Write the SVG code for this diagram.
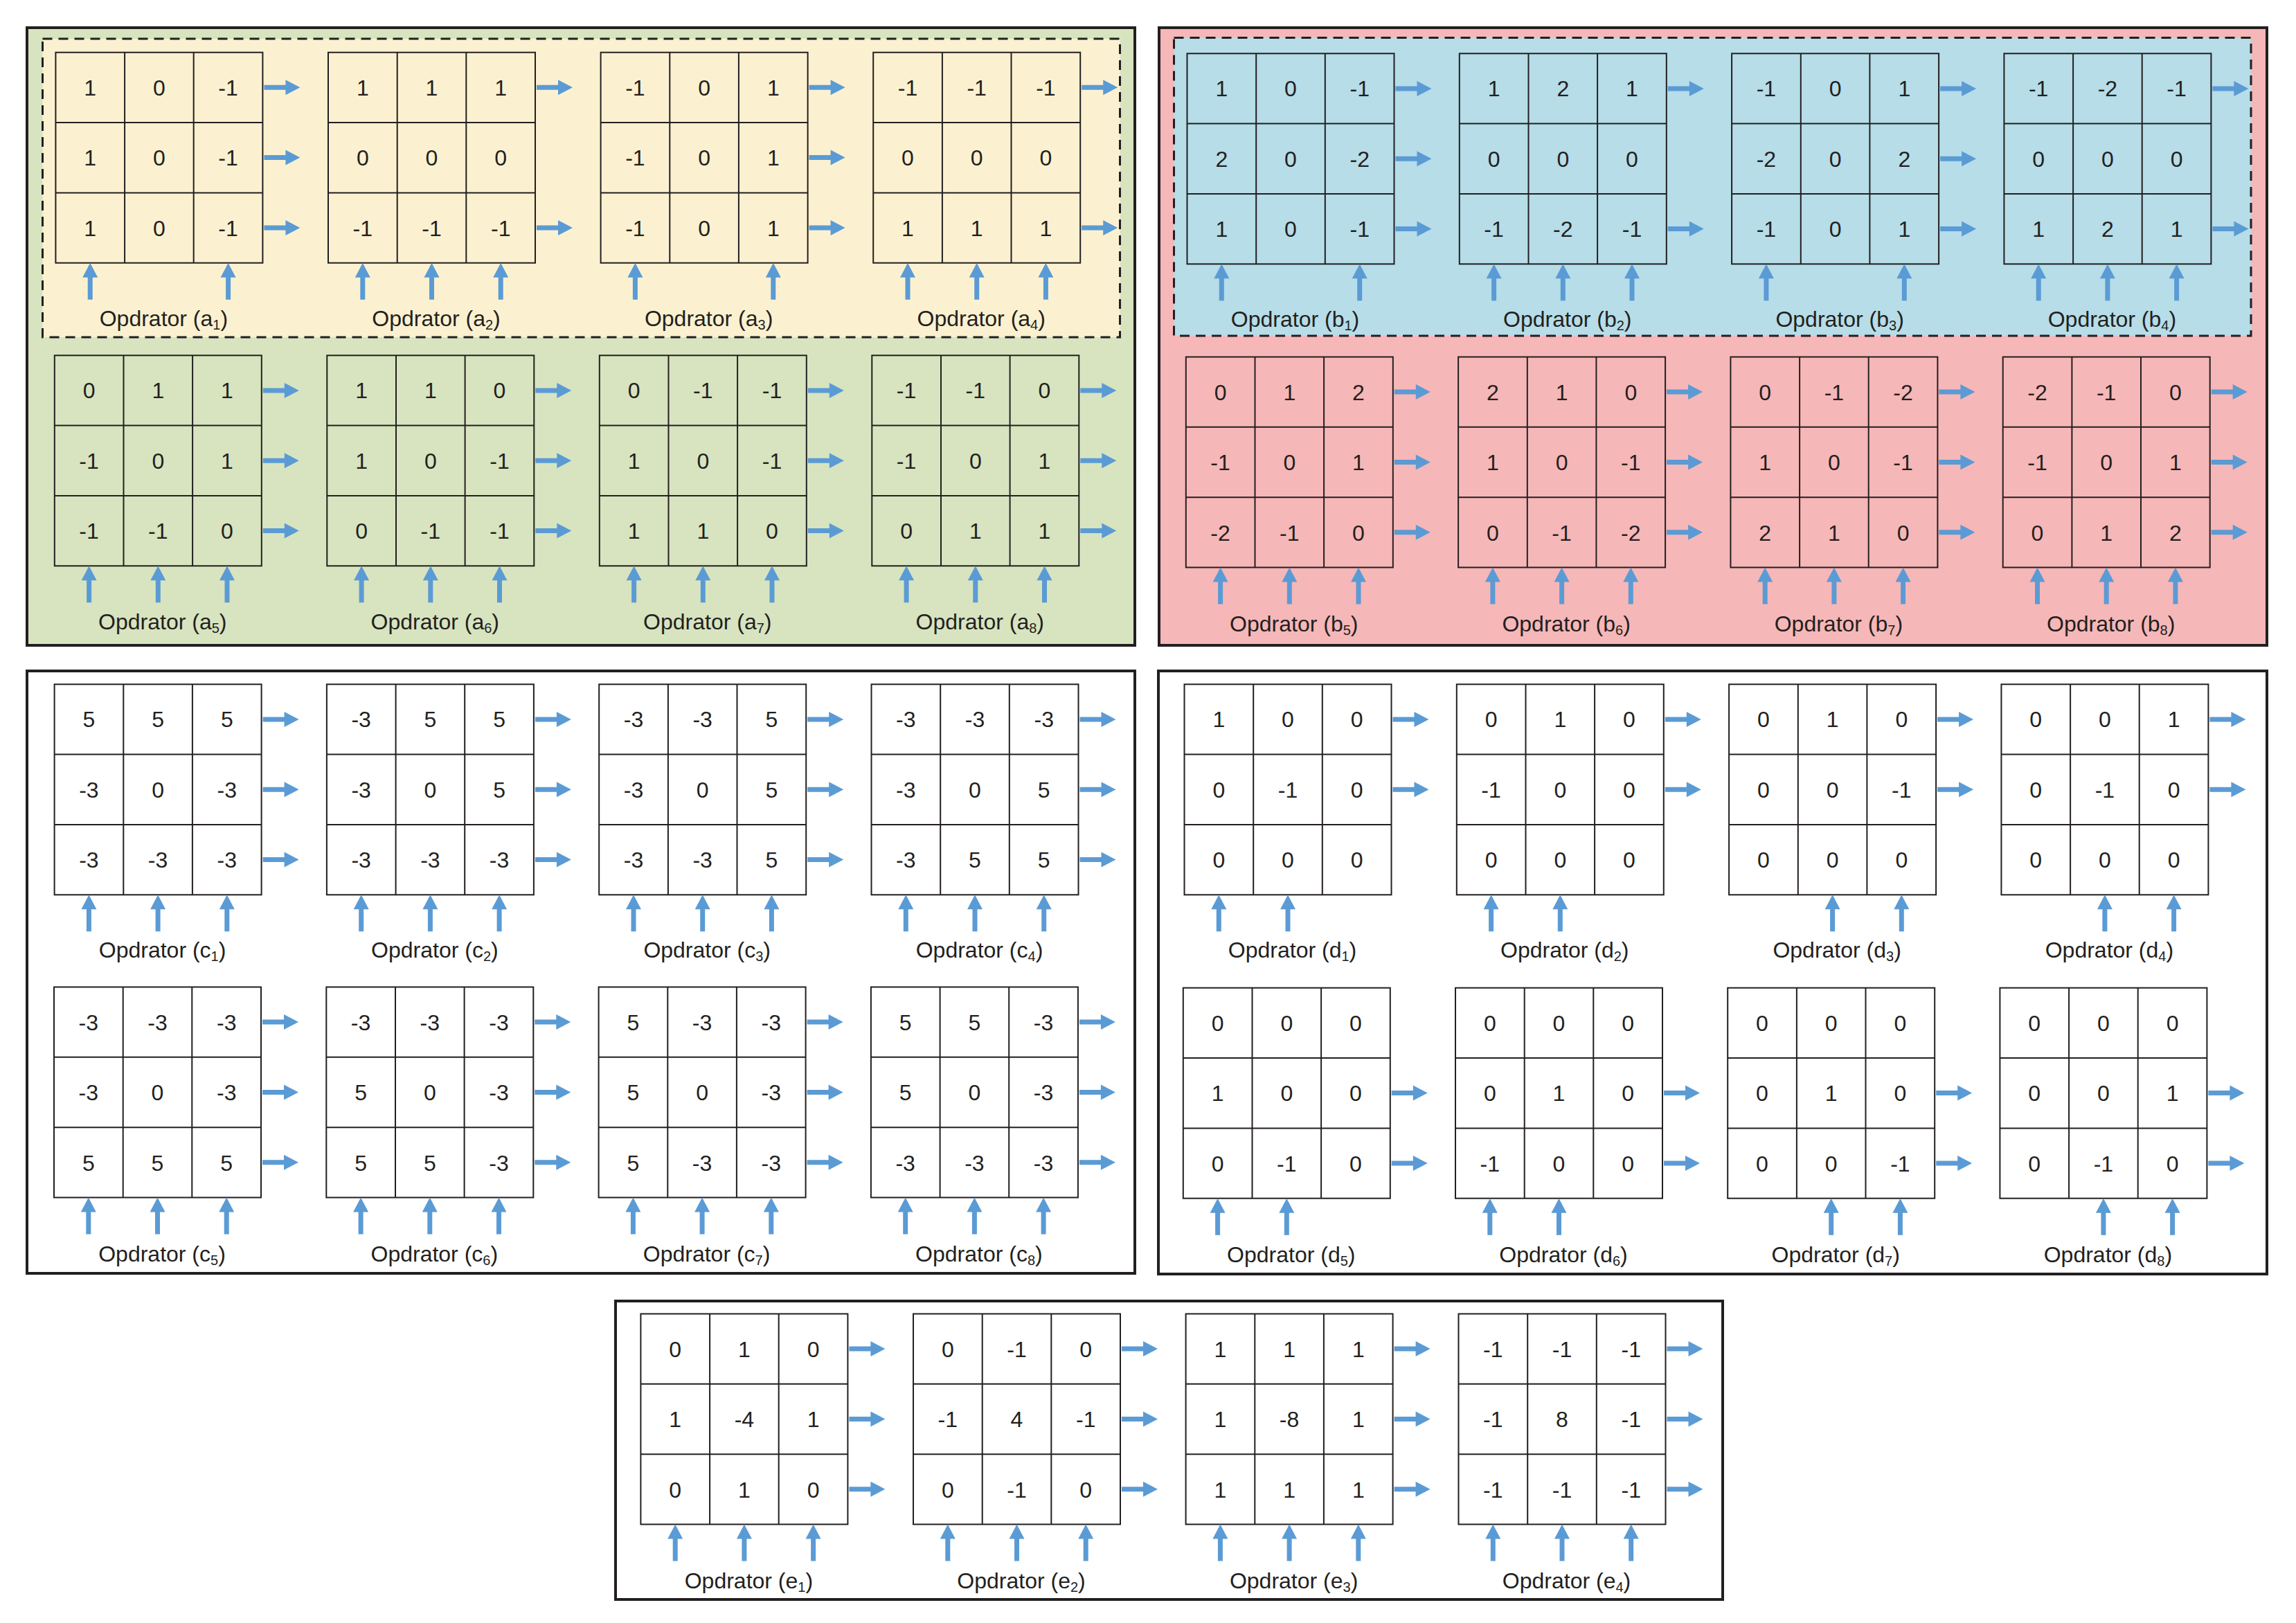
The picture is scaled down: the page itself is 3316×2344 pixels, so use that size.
<svg xmlns="http://www.w3.org/2000/svg" xmlns:xlink="http://www.w3.org/1999/xlink" width="3316" height="2344" viewBox="0 0 3316 2344">
<style>
.pn{stroke:#231f20;stroke-width:4}
.ds{stroke:#231f20;stroke-width:3;stroke-dasharray:14 9}
.gl{fill:none;stroke:#231f20;stroke-width:2}
.n{font-family:"Liberation Sans",Arial,sans-serif;font-size:32px;fill:#231f20;text-anchor:middle}
.lb{font-family:"Liberation Sans",Arial,sans-serif;font-size:32px;fill:#231f20;text-anchor:middle}
.sb{font-size:20px}
.ar{fill:#5b9bd5}
</style>
<defs>
<g id="grid" class="gl"><rect x="0" y="0" width="299" height="304"/><path d="M99.7,0V304M199.3,0V304M0,101.3H299M0,202.7H299"/></g>
<path id="rA" class="ar" d="M0,-3.5H31V-11L52,0L31,11V3.5H0Z"/>
<path id="uA" class="ar" d="M0,0L11,21H3.5V53H-3.5V21H-11Z"/>
</defs>
<rect width="3316" height="2344" fill="#ffffff"/>
<g id="panels">
<rect id="panelA" class="pn" x="39" y="40" width="1600" height="892" fill="#d7e4bf"/>
<rect id="panelA-dash" class="ds" x="61.5" y="56" width="1556" height="431" fill="#fbf1d0"/>
<rect id="panelB" class="pn" x="1674" y="40" width="1600" height="892" fill="#f6b7b8"/>
<rect id="panelB-dash" class="ds" x="1695.5" y="54.5" width="1555.5" height="430.5" fill="#b6dde8"/>
<rect id="panelC" class="pn" x="39" y="969" width="1600" height="870" fill="#ffffff"/>
<rect id="panelD" class="pn" x="1673" y="969" width="1601" height="871" fill="#ffffff"/>
<rect id="panelE" class="pn" x="889" y="1879" width="1599" height="431" fill="#ffffff"/>
</g>
<g id="nodes">
<g id="a1" transform="translate(80.4,75.7)"><use href="#grid"/><text class="n" y="62"><tspan x="49.8">1</tspan><tspan x="149.5">0</tspan><tspan x="249.2">-1</tspan></text><text class="n" y="163.5"><tspan x="49.8">1</tspan><tspan x="149.5">0</tspan><tspan x="249.2">-1</tspan></text><text class="n" y="265"><tspan x="49.8">1</tspan><tspan x="149.5">0</tspan><tspan x="249.2">-1</tspan></text><text class="lb" x="156" y="395">Opdrator (a<tspan class="sb" dy="5">1</tspan><tspan dy="-5">)</tspan></text></g>
<g id="a2" transform="translate(474,75.7)"><use href="#grid"/><text class="n" y="62"><tspan x="49.8">1</tspan><tspan x="149.5">1</tspan><tspan x="249.2">1</tspan></text><text class="n" y="163.5"><tspan x="49.8">0</tspan><tspan x="149.5">0</tspan><tspan x="249.2">0</tspan></text><text class="n" y="265"><tspan x="49.8">-1</tspan><tspan x="149.5">-1</tspan><tspan x="249.2">-1</tspan></text><text class="lb" x="156" y="395">Opdrator (a<tspan class="sb" dy="5">2</tspan><tspan dy="-5">)</tspan></text></g>
<g id="a3" transform="translate(867.6,75.7)"><use href="#grid"/><text class="n" y="62"><tspan x="49.8">-1</tspan><tspan x="149.5">0</tspan><tspan x="249.2">1</tspan></text><text class="n" y="163.5"><tspan x="49.8">-1</tspan><tspan x="149.5">0</tspan><tspan x="249.2">1</tspan></text><text class="n" y="265"><tspan x="49.8">-1</tspan><tspan x="149.5">0</tspan><tspan x="249.2">1</tspan></text><text class="lb" x="156" y="395">Opdrator (a<tspan class="sb" dy="5">3</tspan><tspan dy="-5">)</tspan></text></g>
<g id="a4" transform="translate(1261.2,75.7)"><use href="#grid"/><text class="n" y="62"><tspan x="49.8">-1</tspan><tspan x="149.5">-1</tspan><tspan x="249.2">-1</tspan></text><text class="n" y="163.5"><tspan x="49.8">0</tspan><tspan x="149.5">0</tspan><tspan x="249.2">0</tspan></text><text class="n" y="265"><tspan x="49.8">1</tspan><tspan x="149.5">1</tspan><tspan x="249.2">1</tspan></text><text class="lb" x="156" y="395">Opdrator (a<tspan class="sb" dy="5">4</tspan><tspan dy="-5">)</tspan></text></g>
<g id="a5" transform="translate(78.8,513.3)"><use href="#grid"/><text class="n" y="62"><tspan x="49.8">0</tspan><tspan x="149.5">1</tspan><tspan x="249.2">1</tspan></text><text class="n" y="163.5"><tspan x="49.8">-1</tspan><tspan x="149.5">0</tspan><tspan x="249.2">1</tspan></text><text class="n" y="265"><tspan x="49.8">-1</tspan><tspan x="149.5">-1</tspan><tspan x="249.2">0</tspan></text><text class="lb" x="156" y="396">Opdrator (a<tspan class="sb" dy="5">5</tspan><tspan dy="-5">)</tspan></text></g>
<g id="a6" transform="translate(472.3,513.3)"><use href="#grid"/><text class="n" y="62"><tspan x="49.8">1</tspan><tspan x="149.5">1</tspan><tspan x="249.2">0</tspan></text><text class="n" y="163.5"><tspan x="49.8">1</tspan><tspan x="149.5">0</tspan><tspan x="249.2">-1</tspan></text><text class="n" y="265"><tspan x="49.8">0</tspan><tspan x="149.5">-1</tspan><tspan x="249.2">-1</tspan></text><text class="lb" x="156" y="396">Opdrator (a<tspan class="sb" dy="5">6</tspan><tspan dy="-5">)</tspan></text></g>
<g id="a7" transform="translate(865.8,513.3)"><use href="#grid"/><text class="n" y="62"><tspan x="49.8">0</tspan><tspan x="149.5">-1</tspan><tspan x="249.2">-1</tspan></text><text class="n" y="163.5"><tspan x="49.8">1</tspan><tspan x="149.5">0</tspan><tspan x="249.2">-1</tspan></text><text class="n" y="265"><tspan x="49.8">1</tspan><tspan x="149.5">1</tspan><tspan x="249.2">0</tspan></text><text class="lb" x="156" y="396">Opdrator (a<tspan class="sb" dy="5">7</tspan><tspan dy="-5">)</tspan></text></g>
<g id="a8" transform="translate(1259.3,513.3)"><use href="#grid"/><text class="n" y="62"><tspan x="49.8">-1</tspan><tspan x="149.5">-1</tspan><tspan x="249.2">0</tspan></text><text class="n" y="163.5"><tspan x="49.8">-1</tspan><tspan x="149.5">0</tspan><tspan x="249.2">1</tspan></text><text class="n" y="265"><tspan x="49.8">0</tspan><tspan x="149.5">1</tspan><tspan x="249.2">1</tspan></text><text class="lb" x="156" y="396">Opdrator (a<tspan class="sb" dy="5">8</tspan><tspan dy="-5">)</tspan></text></g>
<g id="b1" transform="translate(1714.5,77.3)"><use href="#grid"/><text class="n" y="62"><tspan x="49.8">1</tspan><tspan x="149.5">0</tspan><tspan x="249.2">-1</tspan></text><text class="n" y="163.5"><tspan x="49.8">2</tspan><tspan x="149.5">0</tspan><tspan x="249.2">-2</tspan></text><text class="n" y="265"><tspan x="49.8">1</tspan><tspan x="149.5">0</tspan><tspan x="249.2">-1</tspan></text><text class="lb" x="156" y="395">Opdrator (b<tspan class="sb" dy="5">1</tspan><tspan dy="-5">)</tspan></text></g>
<g id="b2" transform="translate(2107.8,77.3)"><use href="#grid"/><text class="n" y="62"><tspan x="49.8">1</tspan><tspan x="149.5">2</tspan><tspan x="249.2">1</tspan></text><text class="n" y="163.5"><tspan x="49.8">0</tspan><tspan x="149.5">0</tspan><tspan x="249.2">0</tspan></text><text class="n" y="265"><tspan x="49.8">-1</tspan><tspan x="149.5">-2</tspan><tspan x="249.2">-1</tspan></text><text class="lb" x="156" y="395">Opdrator (b<tspan class="sb" dy="5">2</tspan><tspan dy="-5">)</tspan></text></g>
<g id="b3" transform="translate(2501.1,77.3)"><use href="#grid"/><text class="n" y="62"><tspan x="49.8">-1</tspan><tspan x="149.5">0</tspan><tspan x="249.2">1</tspan></text><text class="n" y="163.5"><tspan x="49.8">-2</tspan><tspan x="149.5">0</tspan><tspan x="249.2">2</tspan></text><text class="n" y="265"><tspan x="49.8">-1</tspan><tspan x="149.5">0</tspan><tspan x="249.2">1</tspan></text><text class="lb" x="156" y="395">Opdrator (b<tspan class="sb" dy="5">3</tspan><tspan dy="-5">)</tspan></text></g>
<g id="b4" transform="translate(2894.4,77.3)"><use href="#grid"/><text class="n" y="62"><tspan x="49.8">-1</tspan><tspan x="149.5">-2</tspan><tspan x="249.2">-1</tspan></text><text class="n" y="163.5"><tspan x="49.8">0</tspan><tspan x="149.5">0</tspan><tspan x="249.2">0</tspan></text><text class="n" y="265"><tspan x="49.8">1</tspan><tspan x="149.5">2</tspan><tspan x="249.2">1</tspan></text><text class="lb" x="156" y="395">Opdrator (b<tspan class="sb" dy="5">4</tspan><tspan dy="-5">)</tspan></text></g>
<g id="b5" transform="translate(1712.8,515.5)"><use href="#grid"/><text class="n" y="62"><tspan x="49.8">0</tspan><tspan x="149.5">1</tspan><tspan x="249.2">2</tspan></text><text class="n" y="163.5"><tspan x="49.8">-1</tspan><tspan x="149.5">0</tspan><tspan x="249.2">1</tspan></text><text class="n" y="265"><tspan x="49.8">-2</tspan><tspan x="149.5">-1</tspan><tspan x="249.2">0</tspan></text><text class="lb" x="156" y="396">Opdrator (b<tspan class="sb" dy="5">5</tspan><tspan dy="-5">)</tspan></text></g>
<g id="b6" transform="translate(2106.1,515.5)"><use href="#grid"/><text class="n" y="62"><tspan x="49.8">2</tspan><tspan x="149.5">1</tspan><tspan x="249.2">0</tspan></text><text class="n" y="163.5"><tspan x="49.8">1</tspan><tspan x="149.5">0</tspan><tspan x="249.2">-1</tspan></text><text class="n" y="265"><tspan x="49.8">0</tspan><tspan x="149.5">-1</tspan><tspan x="249.2">-2</tspan></text><text class="lb" x="156" y="396">Opdrator (b<tspan class="sb" dy="5">6</tspan><tspan dy="-5">)</tspan></text></g>
<g id="b7" transform="translate(2499.4,515.5)"><use href="#grid"/><text class="n" y="62"><tspan x="49.8">0</tspan><tspan x="149.5">-1</tspan><tspan x="249.2">-2</tspan></text><text class="n" y="163.5"><tspan x="49.8">1</tspan><tspan x="149.5">0</tspan><tspan x="249.2">-1</tspan></text><text class="n" y="265"><tspan x="49.8">2</tspan><tspan x="149.5">1</tspan><tspan x="249.2">0</tspan></text><text class="lb" x="156" y="396">Opdrator (b<tspan class="sb" dy="5">7</tspan><tspan dy="-5">)</tspan></text></g>
<g id="b8" transform="translate(2892.7,515.5)"><use href="#grid"/><text class="n" y="62"><tspan x="49.8">-2</tspan><tspan x="149.5">-1</tspan><tspan x="249.2">0</tspan></text><text class="n" y="163.5"><tspan x="49.8">-1</tspan><tspan x="149.5">0</tspan><tspan x="249.2">1</tspan></text><text class="n" y="265"><tspan x="49.8">0</tspan><tspan x="149.5">1</tspan><tspan x="249.2">2</tspan></text><text class="lb" x="156" y="396">Opdrator (b<tspan class="sb" dy="5">8</tspan><tspan dy="-5">)</tspan></text></g>
<g id="c1" transform="translate(78.6,988.3)"><use href="#grid"/><text class="n" y="62"><tspan x="49.8">5</tspan><tspan x="149.5">5</tspan><tspan x="249.2">5</tspan></text><text class="n" y="163.5"><tspan x="49.8">-3</tspan><tspan x="149.5">0</tspan><tspan x="249.2">-3</tspan></text><text class="n" y="265"><tspan x="49.8">-3</tspan><tspan x="149.5">-3</tspan><tspan x="249.2">-3</tspan></text><text class="lb" x="156" y="395">Opdrator (c<tspan class="sb" dy="5">1</tspan><tspan dy="-5">)</tspan></text></g>
<g id="c2" transform="translate(471.9,988.3)"><use href="#grid"/><text class="n" y="62"><tspan x="49.8">-3</tspan><tspan x="149.5">5</tspan><tspan x="249.2">5</tspan></text><text class="n" y="163.5"><tspan x="49.8">-3</tspan><tspan x="149.5">0</tspan><tspan x="249.2">5</tspan></text><text class="n" y="265"><tspan x="49.8">-3</tspan><tspan x="149.5">-3</tspan><tspan x="249.2">-3</tspan></text><text class="lb" x="156" y="395">Opdrator (c<tspan class="sb" dy="5">2</tspan><tspan dy="-5">)</tspan></text></g>
<g id="c3" transform="translate(865.2,988.3)"><use href="#grid"/><text class="n" y="62"><tspan x="49.8">-3</tspan><tspan x="149.5">-3</tspan><tspan x="249.2">5</tspan></text><text class="n" y="163.5"><tspan x="49.8">-3</tspan><tspan x="149.5">0</tspan><tspan x="249.2">5</tspan></text><text class="n" y="265"><tspan x="49.8">-3</tspan><tspan x="149.5">-3</tspan><tspan x="249.2">5</tspan></text><text class="lb" x="156" y="395">Opdrator (c<tspan class="sb" dy="5">3</tspan><tspan dy="-5">)</tspan></text></g>
<g id="c4" transform="translate(1258.5,988.3)"><use href="#grid"/><text class="n" y="62"><tspan x="49.8">-3</tspan><tspan x="149.5">-3</tspan><tspan x="249.2">-3</tspan></text><text class="n" y="163.5"><tspan x="49.8">-3</tspan><tspan x="149.5">0</tspan><tspan x="249.2">5</tspan></text><text class="n" y="265"><tspan x="49.8">-3</tspan><tspan x="149.5">5</tspan><tspan x="249.2">5</tspan></text><text class="lb" x="156" y="395">Opdrator (c<tspan class="sb" dy="5">4</tspan><tspan dy="-5">)</tspan></text></g>
<g id="c5" transform="translate(78,1425.5)"><use href="#grid"/><text class="n" y="62"><tspan x="49.8">-3</tspan><tspan x="149.5">-3</tspan><tspan x="249.2">-3</tspan></text><text class="n" y="163.5"><tspan x="49.8">-3</tspan><tspan x="149.5">0</tspan><tspan x="249.2">-3</tspan></text><text class="n" y="265"><tspan x="49.8">5</tspan><tspan x="149.5">5</tspan><tspan x="249.2">5</tspan></text><text class="lb" x="156" y="396">Opdrator (c<tspan class="sb" dy="5">5</tspan><tspan dy="-5">)</tspan></text></g>
<g id="c6" transform="translate(471.3,1425.5)"><use href="#grid"/><text class="n" y="62"><tspan x="49.8">-3</tspan><tspan x="149.5">-3</tspan><tspan x="249.2">-3</tspan></text><text class="n" y="163.5"><tspan x="49.8">5</tspan><tspan x="149.5">0</tspan><tspan x="249.2">-3</tspan></text><text class="n" y="265"><tspan x="49.8">5</tspan><tspan x="149.5">5</tspan><tspan x="249.2">-3</tspan></text><text class="lb" x="156" y="396">Opdrator (c<tspan class="sb" dy="5">6</tspan><tspan dy="-5">)</tspan></text></g>
<g id="c7" transform="translate(864.6,1425.5)"><use href="#grid"/><text class="n" y="62"><tspan x="49.8">5</tspan><tspan x="149.5">-3</tspan><tspan x="249.2">-3</tspan></text><text class="n" y="163.5"><tspan x="49.8">5</tspan><tspan x="149.5">0</tspan><tspan x="249.2">-3</tspan></text><text class="n" y="265"><tspan x="49.8">5</tspan><tspan x="149.5">-3</tspan><tspan x="249.2">-3</tspan></text><text class="lb" x="156" y="396">Opdrator (c<tspan class="sb" dy="5">7</tspan><tspan dy="-5">)</tspan></text></g>
<g id="c8" transform="translate(1257.9,1425.5)"><use href="#grid"/><text class="n" y="62"><tspan x="49.8">5</tspan><tspan x="149.5">5</tspan><tspan x="249.2">-3</tspan></text><text class="n" y="163.5"><tspan x="49.8">5</tspan><tspan x="149.5">0</tspan><tspan x="249.2">-3</tspan></text><text class="n" y="265"><tspan x="49.8">-3</tspan><tspan x="149.5">-3</tspan><tspan x="249.2">-3</tspan></text><text class="lb" x="156" y="396">Opdrator (c<tspan class="sb" dy="5">8</tspan><tspan dy="-5">)</tspan></text></g>
<g id="d1" transform="translate(1710.5,988.3)"><use href="#grid"/><text class="n" y="62"><tspan x="49.8">1</tspan><tspan x="149.5">0</tspan><tspan x="249.2">0</tspan></text><text class="n" y="163.5"><tspan x="49.8">0</tspan><tspan x="149.5">-1</tspan><tspan x="249.2">0</tspan></text><text class="n" y="265"><tspan x="49.8">0</tspan><tspan x="149.5">0</tspan><tspan x="249.2">0</tspan></text><text class="lb" x="156" y="395">Opdrator (d<tspan class="sb" dy="5">1</tspan><tspan dy="-5">)</tspan></text></g>
<g id="d2" transform="translate(2103.8,988.3)"><use href="#grid"/><text class="n" y="62"><tspan x="49.8">0</tspan><tspan x="149.5">1</tspan><tspan x="249.2">0</tspan></text><text class="n" y="163.5"><tspan x="49.8">-1</tspan><tspan x="149.5">0</tspan><tspan x="249.2">0</tspan></text><text class="n" y="265"><tspan x="49.8">0</tspan><tspan x="149.5">0</tspan><tspan x="249.2">0</tspan></text><text class="lb" x="156" y="395">Opdrator (d<tspan class="sb" dy="5">2</tspan><tspan dy="-5">)</tspan></text></g>
<g id="d3" transform="translate(2497.1,988.3)"><use href="#grid"/><text class="n" y="62"><tspan x="49.8">0</tspan><tspan x="149.5">1</tspan><tspan x="249.2">0</tspan></text><text class="n" y="163.5"><tspan x="49.8">0</tspan><tspan x="149.5">0</tspan><tspan x="249.2">-1</tspan></text><text class="n" y="265"><tspan x="49.8">0</tspan><tspan x="149.5">0</tspan><tspan x="249.2">0</tspan></text><text class="lb" x="156" y="395">Opdrator (d<tspan class="sb" dy="5">3</tspan><tspan dy="-5">)</tspan></text></g>
<g id="d4" transform="translate(2890.4,988.3)"><use href="#grid"/><text class="n" y="62"><tspan x="49.8">0</tspan><tspan x="149.5">0</tspan><tspan x="249.2">1</tspan></text><text class="n" y="163.5"><tspan x="49.8">0</tspan><tspan x="149.5">-1</tspan><tspan x="249.2">0</tspan></text><text class="n" y="265"><tspan x="49.8">0</tspan><tspan x="149.5">0</tspan><tspan x="249.2">0</tspan></text><text class="lb" x="156" y="395">Opdrator (d<tspan class="sb" dy="5">4</tspan><tspan dy="-5">)</tspan></text></g>
<g id="d5" transform="translate(1708.8,1426.7)"><use href="#grid"/><text class="n" y="62"><tspan x="49.8">0</tspan><tspan x="149.5">0</tspan><tspan x="249.2">0</tspan></text><text class="n" y="163.5"><tspan x="49.8">1</tspan><tspan x="149.5">0</tspan><tspan x="249.2">0</tspan></text><text class="n" y="265"><tspan x="49.8">0</tspan><tspan x="149.5">-1</tspan><tspan x="249.2">0</tspan></text><text class="lb" x="156" y="396">Opdrator (d<tspan class="sb" dy="5">5</tspan><tspan dy="-5">)</tspan></text></g>
<g id="d6" transform="translate(2102,1426.7)"><use href="#grid"/><text class="n" y="62"><tspan x="49.8">0</tspan><tspan x="149.5">0</tspan><tspan x="249.2">0</tspan></text><text class="n" y="163.5"><tspan x="49.8">0</tspan><tspan x="149.5">1</tspan><tspan x="249.2">0</tspan></text><text class="n" y="265"><tspan x="49.8">-1</tspan><tspan x="149.5">0</tspan><tspan x="249.2">0</tspan></text><text class="lb" x="156" y="396">Opdrator (d<tspan class="sb" dy="5">6</tspan><tspan dy="-5">)</tspan></text></g>
<g id="d7" transform="translate(2495.2,1426.7)"><use href="#grid"/><text class="n" y="62"><tspan x="49.8">0</tspan><tspan x="149.5">0</tspan><tspan x="249.2">0</tspan></text><text class="n" y="163.5"><tspan x="49.8">0</tspan><tspan x="149.5">1</tspan><tspan x="249.2">0</tspan></text><text class="n" y="265"><tspan x="49.8">0</tspan><tspan x="149.5">0</tspan><tspan x="249.2">-1</tspan></text><text class="lb" x="156" y="396">Opdrator (d<tspan class="sb" dy="5">7</tspan><tspan dy="-5">)</tspan></text></g>
<g id="d8" transform="translate(2888.4,1426.7)"><use href="#grid"/><text class="n" y="62"><tspan x="49.8">0</tspan><tspan x="149.5">0</tspan><tspan x="249.2">0</tspan></text><text class="n" y="163.5"><tspan x="49.8">0</tspan><tspan x="149.5">0</tspan><tspan x="249.2">1</tspan></text><text class="n" y="265"><tspan x="49.8">0</tspan><tspan x="149.5">-1</tspan><tspan x="249.2">0</tspan></text><text class="lb" x="156" y="396">Opdrator (d<tspan class="sb" dy="5">8</tspan><tspan dy="-5">)</tspan></text></g>
<g id="e1" transform="translate(925.4,1897.5)"><use href="#grid"/><text class="n" y="62"><tspan x="49.8">0</tspan><tspan x="149.5">1</tspan><tspan x="249.2">0</tspan></text><text class="n" y="163.5"><tspan x="49.8">1</tspan><tspan x="149.5">-4</tspan><tspan x="249.2">1</tspan></text><text class="n" y="265"><tspan x="49.8">0</tspan><tspan x="149.5">1</tspan><tspan x="249.2">0</tspan></text><text class="lb" x="156" y="396">Opdrator (e<tspan class="sb" dy="5">1</tspan><tspan dy="-5">)</tspan></text></g>
<g id="e2" transform="translate(1319,1897.5)"><use href="#grid"/><text class="n" y="62"><tspan x="49.8">0</tspan><tspan x="149.5">-1</tspan><tspan x="249.2">0</tspan></text><text class="n" y="163.5"><tspan x="49.8">-1</tspan><tspan x="149.5">4</tspan><tspan x="249.2">-1</tspan></text><text class="n" y="265"><tspan x="49.8">0</tspan><tspan x="149.5">-1</tspan><tspan x="249.2">0</tspan></text><text class="lb" x="156" y="396">Opdrator (e<tspan class="sb" dy="5">2</tspan><tspan dy="-5">)</tspan></text></g>
<g id="e3" transform="translate(1712.6,1897.5)"><use href="#grid"/><text class="n" y="62"><tspan x="49.8">1</tspan><tspan x="149.5">1</tspan><tspan x="249.2">1</tspan></text><text class="n" y="163.5"><tspan x="49.8">1</tspan><tspan x="149.5">-8</tspan><tspan x="249.2">1</tspan></text><text class="n" y="265"><tspan x="49.8">1</tspan><tspan x="149.5">1</tspan><tspan x="249.2">1</tspan></text><text class="lb" x="156" y="396">Opdrator (e<tspan class="sb" dy="5">3</tspan><tspan dy="-5">)</tspan></text></g>
<g id="e4" transform="translate(2106.5,1897.5)"><use href="#grid"/><text class="n" y="62"><tspan x="49.8">-1</tspan><tspan x="149.5">-1</tspan><tspan x="249.2">-1</tspan></text><text class="n" y="163.5"><tspan x="49.8">-1</tspan><tspan x="149.5">8</tspan><tspan x="249.2">-1</tspan></text><text class="n" y="265"><tspan x="49.8">-1</tspan><tspan x="149.5">-1</tspan><tspan x="249.2">-1</tspan></text><text class="lb" x="156" y="396">Opdrator (e<tspan class="sb" dy="5">4</tspan><tspan dy="-5">)</tspan></text></g>
</g>
<g id="connectors">
<g transform="translate(80.4,75.7)"><use href="#rA" x="301" y="50.6"/><use href="#rA" x="301" y="151.9"/><use href="#rA" x="301" y="253.2"/><use href="#uA" x="49.8" y="304"/><use href="#uA" x="249.2" y="304"/></g>
<g transform="translate(474,75.7)"><use href="#rA" x="301" y="50.6"/><use href="#rA" x="301" y="253.2"/><use href="#uA" x="49.8" y="304"/><use href="#uA" x="149.5" y="304"/><use href="#uA" x="249.2" y="304"/></g>
<g transform="translate(867.6,75.7)"><use href="#rA" x="301" y="50.6"/><use href="#rA" x="301" y="151.9"/><use href="#rA" x="301" y="253.2"/><use href="#uA" x="49.8" y="304"/><use href="#uA" x="249.2" y="304"/></g>
<g transform="translate(1261.2,75.7)"><use href="#rA" x="301" y="50.6"/><use href="#rA" x="301" y="253.2"/><use href="#uA" x="49.8" y="304"/><use href="#uA" x="149.5" y="304"/><use href="#uA" x="249.2" y="304"/></g>
<g transform="translate(78.8,513.3)"><use href="#rA" x="301" y="50.6"/><use href="#rA" x="301" y="151.9"/><use href="#rA" x="301" y="253.2"/><use href="#uA" x="49.8" y="304"/><use href="#uA" x="149.5" y="304"/><use href="#uA" x="249.2" y="304"/></g>
<g transform="translate(472.3,513.3)"><use href="#rA" x="301" y="50.6"/><use href="#rA" x="301" y="151.9"/><use href="#rA" x="301" y="253.2"/><use href="#uA" x="49.8" y="304"/><use href="#uA" x="149.5" y="304"/><use href="#uA" x="249.2" y="304"/></g>
<g transform="translate(865.8,513.3)"><use href="#rA" x="301" y="50.6"/><use href="#rA" x="301" y="151.9"/><use href="#rA" x="301" y="253.2"/><use href="#uA" x="49.8" y="304"/><use href="#uA" x="149.5" y="304"/><use href="#uA" x="249.2" y="304"/></g>
<g transform="translate(1259.3,513.3)"><use href="#rA" x="301" y="50.6"/><use href="#rA" x="301" y="151.9"/><use href="#rA" x="301" y="253.2"/><use href="#uA" x="49.8" y="304"/><use href="#uA" x="149.5" y="304"/><use href="#uA" x="249.2" y="304"/></g>
<g transform="translate(1714.5,77.3)"><use href="#rA" x="301" y="50.6"/><use href="#rA" x="301" y="151.9"/><use href="#rA" x="301" y="253.2"/><use href="#uA" x="49.8" y="304"/><use href="#uA" x="249.2" y="304"/></g>
<g transform="translate(2107.8,77.3)"><use href="#rA" x="301" y="50.6"/><use href="#rA" x="301" y="253.2"/><use href="#uA" x="49.8" y="304"/><use href="#uA" x="149.5" y="304"/><use href="#uA" x="249.2" y="304"/></g>
<g transform="translate(2501.1,77.3)"><use href="#rA" x="301" y="50.6"/><use href="#rA" x="301" y="151.9"/><use href="#rA" x="301" y="253.2"/><use href="#uA" x="49.8" y="304"/><use href="#uA" x="249.2" y="304"/></g>
<g transform="translate(2894.4,77.3)"><use href="#rA" x="301" y="50.6"/><use href="#rA" x="301" y="253.2"/><use href="#uA" x="49.8" y="304"/><use href="#uA" x="149.5" y="304"/><use href="#uA" x="249.2" y="304"/></g>
<g transform="translate(1712.8,515.5)"><use href="#rA" x="301" y="50.6"/><use href="#rA" x="301" y="151.9"/><use href="#rA" x="301" y="253.2"/><use href="#uA" x="49.8" y="304"/><use href="#uA" x="149.5" y="304"/><use href="#uA" x="249.2" y="304"/></g>
<g transform="translate(2106.1,515.5)"><use href="#rA" x="301" y="50.6"/><use href="#rA" x="301" y="151.9"/><use href="#rA" x="301" y="253.2"/><use href="#uA" x="49.8" y="304"/><use href="#uA" x="149.5" y="304"/><use href="#uA" x="249.2" y="304"/></g>
<g transform="translate(2499.4,515.5)"><use href="#rA" x="301" y="50.6"/><use href="#rA" x="301" y="151.9"/><use href="#rA" x="301" y="253.2"/><use href="#uA" x="49.8" y="304"/><use href="#uA" x="149.5" y="304"/><use href="#uA" x="249.2" y="304"/></g>
<g transform="translate(2892.7,515.5)"><use href="#rA" x="301" y="50.6"/><use href="#rA" x="301" y="151.9"/><use href="#rA" x="301" y="253.2"/><use href="#uA" x="49.8" y="304"/><use href="#uA" x="149.5" y="304"/><use href="#uA" x="249.2" y="304"/></g>
<g transform="translate(78.6,988.3)"><use href="#rA" x="301" y="50.6"/><use href="#rA" x="301" y="151.9"/><use href="#rA" x="301" y="253.2"/><use href="#uA" x="49.8" y="304"/><use href="#uA" x="149.5" y="304"/><use href="#uA" x="249.2" y="304"/></g>
<g transform="translate(471.9,988.3)"><use href="#rA" x="301" y="50.6"/><use href="#rA" x="301" y="151.9"/><use href="#rA" x="301" y="253.2"/><use href="#uA" x="49.8" y="304"/><use href="#uA" x="149.5" y="304"/><use href="#uA" x="249.2" y="304"/></g>
<g transform="translate(865.2,988.3)"><use href="#rA" x="301" y="50.6"/><use href="#rA" x="301" y="151.9"/><use href="#rA" x="301" y="253.2"/><use href="#uA" x="49.8" y="304"/><use href="#uA" x="149.5" y="304"/><use href="#uA" x="249.2" y="304"/></g>
<g transform="translate(1258.5,988.3)"><use href="#rA" x="301" y="50.6"/><use href="#rA" x="301" y="151.9"/><use href="#rA" x="301" y="253.2"/><use href="#uA" x="49.8" y="304"/><use href="#uA" x="149.5" y="304"/><use href="#uA" x="249.2" y="304"/></g>
<g transform="translate(78,1425.5)"><use href="#rA" x="301" y="50.6"/><use href="#rA" x="301" y="151.9"/><use href="#rA" x="301" y="253.2"/><use href="#uA" x="49.8" y="304"/><use href="#uA" x="149.5" y="304"/><use href="#uA" x="249.2" y="304"/></g>
<g transform="translate(471.3,1425.5)"><use href="#rA" x="301" y="50.6"/><use href="#rA" x="301" y="151.9"/><use href="#rA" x="301" y="253.2"/><use href="#uA" x="49.8" y="304"/><use href="#uA" x="149.5" y="304"/><use href="#uA" x="249.2" y="304"/></g>
<g transform="translate(864.6,1425.5)"><use href="#rA" x="301" y="50.6"/><use href="#rA" x="301" y="151.9"/><use href="#rA" x="301" y="253.2"/><use href="#uA" x="49.8" y="304"/><use href="#uA" x="149.5" y="304"/><use href="#uA" x="249.2" y="304"/></g>
<g transform="translate(1257.9,1425.5)"><use href="#rA" x="301" y="50.6"/><use href="#rA" x="301" y="151.9"/><use href="#rA" x="301" y="253.2"/><use href="#uA" x="49.8" y="304"/><use href="#uA" x="149.5" y="304"/><use href="#uA" x="249.2" y="304"/></g>
<g transform="translate(1710.5,988.3)"><use href="#rA" x="301" y="50.6"/><use href="#rA" x="301" y="151.9"/><use href="#uA" x="49.8" y="304"/><use href="#uA" x="149.5" y="304"/></g>
<g transform="translate(2103.8,988.3)"><use href="#rA" x="301" y="50.6"/><use href="#rA" x="301" y="151.9"/><use href="#uA" x="49.8" y="304"/><use href="#uA" x="149.5" y="304"/></g>
<g transform="translate(2497.1,988.3)"><use href="#rA" x="301" y="50.6"/><use href="#rA" x="301" y="151.9"/><use href="#uA" x="149.5" y="304"/><use href="#uA" x="249.2" y="304"/></g>
<g transform="translate(2890.4,988.3)"><use href="#rA" x="301" y="50.6"/><use href="#rA" x="301" y="151.9"/><use href="#uA" x="149.5" y="304"/><use href="#uA" x="249.2" y="304"/></g>
<g transform="translate(1708.8,1426.7)"><use href="#rA" x="301" y="151.9"/><use href="#rA" x="301" y="253.2"/><use href="#uA" x="49.8" y="304"/><use href="#uA" x="149.5" y="304"/></g>
<g transform="translate(2102,1426.7)"><use href="#rA" x="301" y="151.9"/><use href="#rA" x="301" y="253.2"/><use href="#uA" x="49.8" y="304"/><use href="#uA" x="149.5" y="304"/></g>
<g transform="translate(2495.2,1426.7)"><use href="#rA" x="301" y="151.9"/><use href="#rA" x="301" y="253.2"/><use href="#uA" x="149.5" y="304"/><use href="#uA" x="249.2" y="304"/></g>
<g transform="translate(2888.4,1426.7)"><use href="#rA" x="301" y="151.9"/><use href="#rA" x="301" y="253.2"/><use href="#uA" x="149.5" y="304"/><use href="#uA" x="249.2" y="304"/></g>
<g transform="translate(925.4,1897.5)"><use href="#rA" x="301" y="50.6"/><use href="#rA" x="301" y="151.9"/><use href="#rA" x="301" y="253.2"/><use href="#uA" x="49.8" y="304"/><use href="#uA" x="149.5" y="304"/><use href="#uA" x="249.2" y="304"/></g>
<g transform="translate(1319,1897.5)"><use href="#rA" x="301" y="50.6"/><use href="#rA" x="301" y="151.9"/><use href="#rA" x="301" y="253.2"/><use href="#uA" x="49.8" y="304"/><use href="#uA" x="149.5" y="304"/><use href="#uA" x="249.2" y="304"/></g>
<g transform="translate(1712.6,1897.5)"><use href="#rA" x="301" y="50.6"/><use href="#rA" x="301" y="151.9"/><use href="#rA" x="301" y="253.2"/><use href="#uA" x="49.8" y="304"/><use href="#uA" x="149.5" y="304"/><use href="#uA" x="249.2" y="304"/></g>
<g transform="translate(2106.5,1897.5)"><use href="#rA" x="301" y="50.6"/><use href="#rA" x="301" y="151.9"/><use href="#rA" x="301" y="253.2"/><use href="#uA" x="49.8" y="304"/><use href="#uA" x="149.5" y="304"/><use href="#uA" x="249.2" y="304"/></g>
</g>
</svg>
